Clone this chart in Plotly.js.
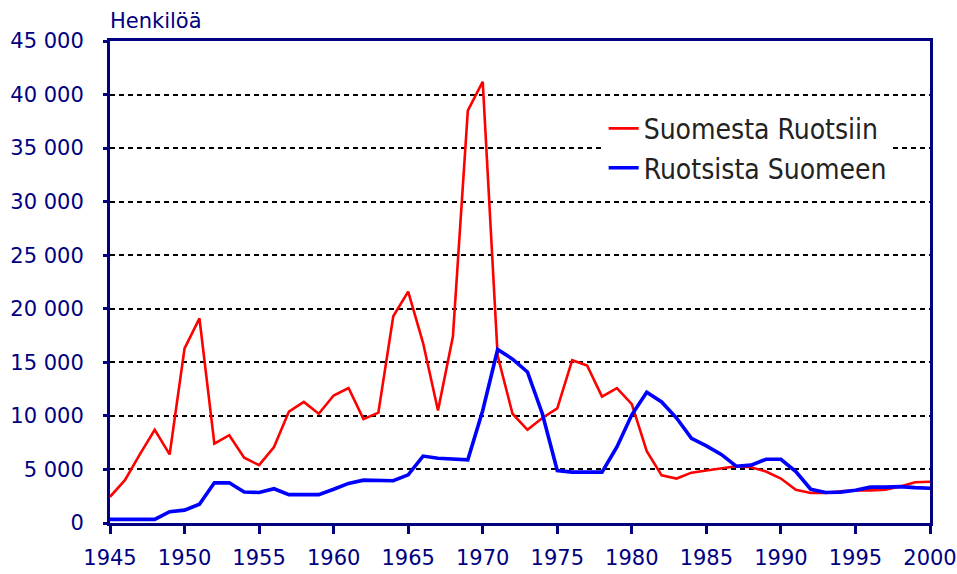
<!DOCTYPE html>
<html>
<head>
<meta charset="utf-8">
<script src="https://cdn.plot.ly/plotly-3.0.1.min.js"></script>
<style>html,body{margin:0;padding:0;background:#fff;}#chart{width:957px;height:574px;}</style>
</head>
<body>
<div id="chart"></div>
<script>
const years = [];
for (let y = 1945; y <= 2000; y++) years.push(y);

const seriesNames = ["Suomesta Ruotsiin", "Ruotsista Suomeen"];

// Suomesta Ruotsiin (Finland -> Sweden)
const fiToSe = [
  2450, 4000, 6400, 8700, 6400, 16300, 19100, 7400, 8200, 6100,
  5400, 7100, 10400, 11300, 10200, 11900, 12600, 9700, 10300, 19300,
  21600, 16800, 10500, 17400, 38500, 41200, 15600, 10200, 8700, 9800,
  10700, 15200, 14700, 11800, 12600, 11100, 6700, 4450, 4150, 4700,
  4900, 5100, 5300, 5200, 4800, 4150, 3100, 2800, 2800, 2950,
  3050, 3050, 3100, 3400, 3800, 3850
];

// Ruotsista Suomeen (Sweden -> Finland)
const seToFi = [
  340, 340, 340, 340, 1050, 1200, 1750, 3750, 3750, 2900,
  2850, 3200, 2650, 2650, 2650, 3150, 3700, 4000, 3950, 3950,
  4500, 6250, 6050, 6000, 5900, 10500, 16200, 15300, 14100, 10200,
  4900, 4750, 4750, 4750, 7100, 10100, 12200, 11300, 9800, 7900,
  7200, 6400, 5300, 5400, 5950, 5950, 4800, 3150, 2850, 2880,
  3050, 3350, 3350, 3400, 3300, 3250
];

const yTickVals = [0, 5000, 10000, 15000, 20000, 25000, 30000, 35000, 40000, 45000];
const yTickText = ["0", "5 000", "10 000", "15 000", "20 000", "25 000", "30 000", "35 000", "40 000", "45 000"];
const xTickVals = [1945, 1950, 1955, 1960, 1965, 1970, 1975, 1980, 1985, 1990, 1995, 2000];

const FONT = "'DejaVu Sans', 'Liberation Sans', sans-serif";
const LEGFONT = "'DejaVu Sans Condensed', 'DejaVu Sans', sans-serif";
const NAVY = "#000080";

const traces = [
  {
    x: years, y: fiToSe, name: seriesNames[0], type: "scatter", mode: "lines",
    line: {color: "#ff0000", width: 2.6}
  },
  {
    x: years, y: seToFi, name: seriesNames[1], type: "scatter", mode: "lines",
    line: {color: "#0000ff", width: 3.6}
  }
];

const layout = {
  width: 957, height: 574,
  margin: {l: 110, r: 27, t: 41, b: 51},
  paper_bgcolor: "#ffffff", plot_bgcolor: "#ffffff",
  font: {family: FONT, color: NAVY, size: 21},
  showlegend: true,
  legend: {
    x: 0.602, y: 0.87, xanchor: "left", yanchor: "top",
    bgcolor: "#ffffff", borderwidth: 0,
    font: {family: LEGFONT, size: 28, color: "#222222"},
    tracegroupgap: 0
  },
  xaxis: {
    range: [1945, 2000], tickmode: "array", tickvals: xTickVals,
    showgrid: false, zeroline: false,
    showline: true, linecolor: NAVY, linewidth: 3, mirror: true,
    ticks: "outside", ticklen: 8, tickwidth: 3, tickcolor: NAVY,
    ticklabelstandoff: 6,
    tickfont: {family: FONT, size: 21, color: NAVY}
  },
  yaxis: {
    range: [0, 45000], tickmode: "array", tickvals: yTickVals, ticktext: yTickText,
    showgrid: true, gridcolor: "#000000", gridwidth: 2, griddash: "5px,4px",
    zeroline: false,
    showline: true, linecolor: NAVY, linewidth: 3, mirror: true,
    ticks: "outside", ticklen: 4, tickwidth: 3, tickcolor: NAVY,
    ticklabelstandoff: 15,
    tickfont: {family: FONT, size: 21, color: NAVY}
  },
  annotations: [
    {
      text: "Henkilöä", xref: "paper", yref: "paper", x: -0.003, y: 1.0,
      xanchor: "left", yanchor: "bottom", yshift: 6, showarrow: false,
      font: {family: FONT, size: 21, color: NAVY}
    }
  ]
};

Plotly.newPlot("chart", traces, layout, {displayModeBar: false, staticPlot: true});
</script>
</body>
</html>
